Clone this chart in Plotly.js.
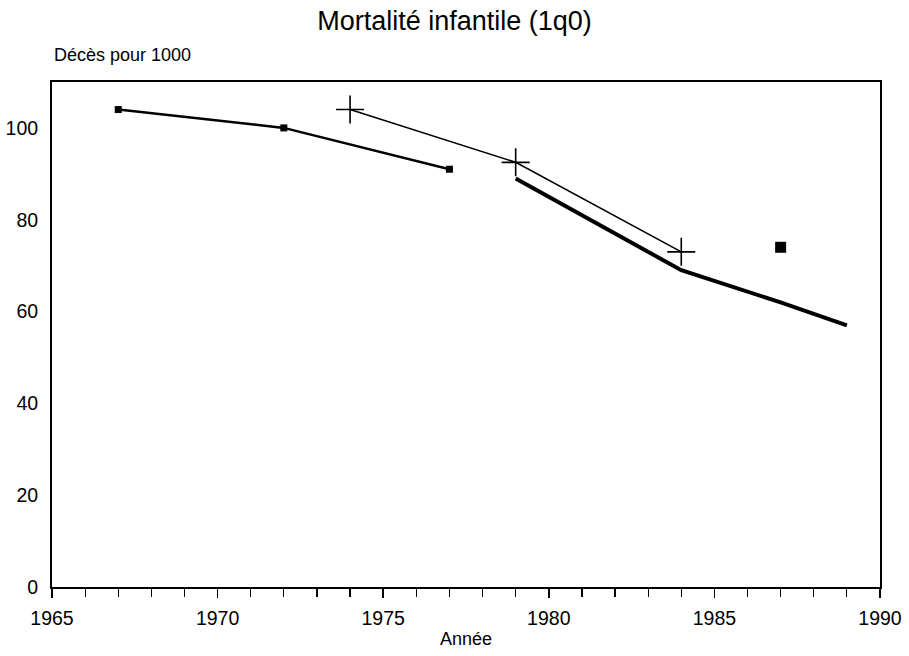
<!DOCTYPE html>
<html>
<head>
<meta charset="utf-8">
<script src="https://cdn.plot.ly/plotly-3.0.1.min.js"></script>
<style>html,body{margin:0;padding:0;background:#fff;}#chart{width:909px;height:656px;}</style>
</head>
<body>
<div id="chart"></div>
<script>
const yearsA = [1967, 1972, 1977];
const valuesA = [104, 100, 91];
const yearsB = [1974, 1979, 1984];
const valuesB = [104, 92.5, 73];
const yearsC = [1979, 1984, 1987, 1989];
const valuesC = [89, 69, 62, 57];
const yearsD = [1987];
const valuesD = [74];
const xTicks = [1965, 1970, 1975, 1980, 1985, 1990];
const yTicks = [0, 20, 40, 60, 80, 100];

const font = 'Liberation Sans, Arial, sans-serif';
const traces = [
  {x: yearsA, y: valuesA, mode: 'lines+markers', line: {color: '#000', width: 2.5},
   marker: {symbol: 'square', size: 7, color: '#000'}},
  {x: yearsB, y: valuesB, mode: 'lines+markers', line: {color: '#000', width: 1.6},
   marker: {symbol: 'cross-thin-open', size: 20, color: '#000', line: {color: '#000', width: 1.6}}},
  {x: yearsC, y: valuesC, mode: 'lines', line: {color: '#000', width: 4}},
  {x: yearsD, y: valuesD, mode: 'markers', marker: {symbol: 'square', size: 11, color: '#000'}}
];
const layout = {
  width: 909, height: 656,
  margin: {l: 52, r: 29, t: 82, b: 69},
  paper_bgcolor: '#fff', plot_bgcolor: '#fff',
  showlegend: false,
  font: {family: font, color: '#000', size: 19},
  title: {text: 'Mortalité infantile (1q0)', font: {family: font, size: 27, color: '#000'},
          x: 0.5, xanchor: 'center', y: 0.969, yanchor: 'middle'},
  xaxis: {range: [1965, 1990], tickvals: xTicks, ticktext: xTicks.map(String),
          ticks: 'outside', ticklen: 9, tickwidth: 1.5, tickcolor: '#000',
          minor: {dtick: 1, tick0: 1965, ticks: 'outside', ticklen: 8, tickwidth: 1.2, tickcolor: '#000'},
          showgrid: false, zeroline: false, showline: true, linecolor: '#000', linewidth: 2, mirror: true,
          title: {text: 'Année', font: {size: 18}, standoff: 4},
          tickfont: {size: 19.5}, ticklabelstandoff: 4},
  yaxis: {range: [0, 110], tickvals: yTicks, ticktext: yTicks.map(String),
          ticks: '', showgrid: false, zeroline: false, showline: true, linecolor: '#000', linewidth: 2, mirror: true,
          tickfont: {size: 19.5}, ticklabelstandoff: 8},
  annotations: [{text: 'Décès pour 1000', xref: 'paper', yref: 'paper', x: 0, y: 1.053,
                 xanchor: 'left', yanchor: 'middle', showarrow: false, font: {size: 18, family: font}}]
};
Plotly.newPlot('chart', traces, layout, {displayModeBar: false, staticPlot: true});
</script>
</body>
</html>
